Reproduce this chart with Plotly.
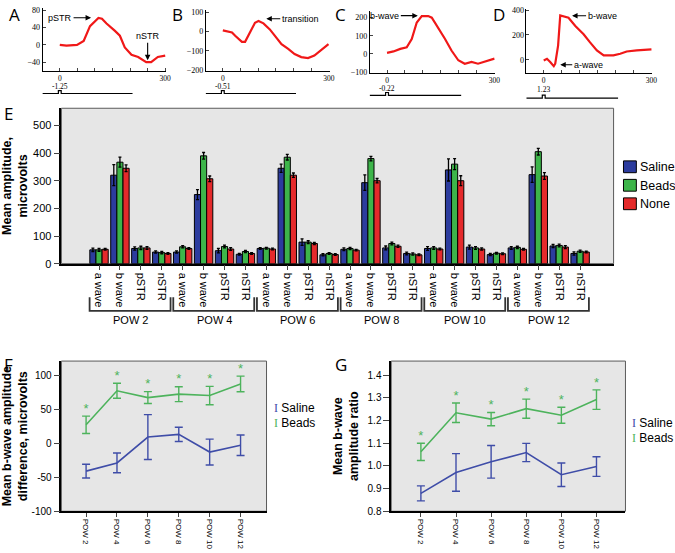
import plotly.graph_objects as go

W, H = 675, 553

# ---- data ----
# example traces A-D (time in ms, amplitude in microvolts)
a_t = [0, 19, 49, 68, 86, 110, 120, 133, 157, 171, 185, 204, 223, 246, 260, 279, 300]
a_v = [0, -2, 0, 9, 43, 62, 60, 49, 32, 21, -6, -23, -28, -40, -40, -28, -25]
b_t = [0, 26, 35, 54, 63, 77, 91, 101, 115, 133, 147, 166, 185, 203, 222, 241, 259, 278, 299]
b_v = [6, -5, -22, -53, -53, -5, 45, 54, 42, 11, -22, -65, -90, -116, -132, -137, -124, -98, -65]
c_t = [0, 18, 37, 55, 69, 83, 97, 115, 125, 143, 162, 180, 199, 217, 236, 254, 273, 300]
c_v = [5, 13, 27, 36, 82, 173, 209, 209, 200, 145, 82, 18, -36, -55, -45, -55, -45, -27]
d_t = [0, 9, 18, 28, 32, 40, 46, 56, 69, 88, 111, 129, 148, 167, 194, 213, 231, 259, 300]
d_v = [-5, 8, -18, -52, -32, 114, 357, 347, 339, 273, 206, 140, 75, 35, 35, 48, 67, 75, 83]
stim_labels = ["-1.25", "-0.51", "-0.22", "1.23"]
stim_t = [-50, -4, -4, 4, 4, 207]
stim_v = [0, 0, 1, 1, 0, 0]

# panel E
measures = ["a wave", "b wave", "pSTR", "nSTR"]
pows = ["POW 2", "POW 4", "POW 6", "POW 8", "POW 10", "POW 12"]
groups = ["Saline", "Beads", "None"]
saline_amp = [50, 320, 55, 42, 42, 250, 47, 34, 55, 345, 78, 32, 52, 293, 57, 37, 55, 339, 60, 33, 57, 322, 64, 37]
beads_amp = [50, 367, 57, 40, 61, 390, 62, 44, 56, 385, 78, 37, 55, 380, 73, 35, 57, 360, 57, 38, 59, 405, 66, 45]
none_amp = [52, 345, 57, 37, 55, 307, 53, 37, 53, 320, 73, 33, 49, 300, 63, 32, 53, 300, 53, 36, 52, 317, 60, 42]
saline_err = [6, 38, 6, 4, 4, 18, 8, 3, 3, 15, 12, 4, 5, 28, 7, 5, 7, 40, 7, 4, 5, 28, 6, 6]
beads_err = [5, 18, 6, 4, 4, 12, 5, 4, 3, 10, 5, 3, 4, 8, 5, 4, 5, 20, 5, 3, 4, 12, 5, 4]
none_err = [3, 12, 5, 3, 3, 10, 5, 3, 3, 8, 4, 3, 3, 8, 4, 3, 3, 18, 4, 3, 3, 12, 5, 3]

# panel F: b-wave amplitude difference
f_saline = [-41, -29, 9, 13, -13, -3]
f_saline_err = [10, 14.5, 33, 10.5, 19, 15]
f_beads = [27, 77, 67, 72, 70, 87]
f_beads_err = [12.7, 11, 8.7, 11, 13.5, 11.5]

# panel G: b-wave amplitude ratio
g_saline = [0.879, 0.971, 1.018, 1.059, 0.961, 0.997]
g_saline_err = [0.033, 0.083, 0.072, 0.04, 0.052, 0.043]
g_beads = [1.062, 1.234, 1.206, 1.252, 1.223, 1.292]
g_beads_err = [0.038, 0.043, 0.029, 0.042, 0.035, 0.043]

BLUE, GREEN, RED = "#2C3C9E", "#3DB54A", "#E42A2B"
LBLUE, LGREEN = "#3F4DA8", "#4DB35C"
FONT = "Liberation Sans"


def xd(a, b):
    return [a / W, b / W]


def yd(top, bot):
    return [1 - bot / H, 1 - top / H]


def py(p):
    return 1 - p / H


fig = go.Figure()
layout = dict(width=W, height=H, margin=dict(l=0, r=0, t=0, b=0),
              plot_bgcolor="white", paper_bgcolor="white",
              font=dict(family=FONT, size=11, color="black"),
              barmode="group", bargap=0.12, bargroupgap=0,
              showlegend=False)

# ---- panels A-D ----
small = [
    # axis suffix, x px, y px, x range, y range, y ticks, stim strip px, data
    ("", [42, 167], [5, 69], [-49, 303], [-60, 85], [80, 40, 0, -40], [86, 95], a_t, a_v),
    ("2", [207, 332], [6.7, 69], [-48, 302], [-203, 113], [100, 0, -100, -200], [86, 95], b_t, b_v),
    ("3", [372.7, 499], [8.3, 70.7], [-48, 301], [-104, 236], [200, 100, 0, -100], [88, 97], c_t, c_v),
    ("4", [531, 658], [6, 70.7], [-48, 302], [-103, 410], [400, 200, 0], [90.7, 99.7], d_t, d_v),
]
stim_axes = ["8", "9", "10", "11"]
for i, (n, xp, ypx, xr, yr, yt, sp, t, v) in enumerate(small):
    sn = stim_axes[i]
    layout["xaxis" + n] = dict(domain=xd(*xp), range=xr, anchor="y" + n, showgrid=False, zeroline=False,
                               showline=True, linecolor="black", linewidth=1, ticks="inside", ticklen=3,
                               tickvals=[0, 50, 100, 150, 200, 250, 300],
                               ticktext=["0", "", "", "", "", "", "300"],
                               tickfont=dict(size=7.5, family="Liberation Sans Narrow"))
    layout["yaxis" + n] = dict(domain=yd(*ypx), range=yr, anchor="x" + n, showgrid=False, zeroline=False,
                               showline=True, linecolor="black", linewidth=1, ticks="inside", ticklen=3,
                               tickvals=yt, tickfont=dict(size=8, family="Liberation Sans Narrow"))
    layout["yaxis" + sn] = dict(domain=yd(*sp), range=[-1, 2], anchor="x" + n, visible=False)
    fig.add_trace(go.Scatter(x=t, y=v, mode="lines", line=dict(color="#F01818", width=2.2),
                             xaxis="x" + n, yaxis="y" + n))
    fig.add_trace(go.Scatter(x=stim_t, y=stim_v, mode="lines", line=dict(color="black", width=1.2),
                             xaxis="x" + n, yaxis="y" + sn))

# ---- panel E ----
cat_x = list(range(len(pows) * len(measures)))
cat_text = measures * len(pows)
for name, vals, errs, col in zip(groups, [saline_amp, beads_amp, none_amp],
                                 [saline_err, beads_err, none_err], [BLUE, GREEN, RED]):
    fig.add_trace(go.Bar(x=cat_x, y=vals, name=name, marker=dict(color=col, line=dict(color="black", width=1)),
                         error_y=dict(type="data", array=errs, color="black", thickness=1.3, width=1.5),
                         xaxis="x5", yaxis="y5"))
layout["xaxis5"] = dict(domain=xd(61, 619), range=[-1.8, 24.6], anchor="y5", showgrid=False, zeroline=False,
                        showline=True, linecolor="black", linewidth=1.5, ticks="outside", ticklen=5,
                        tickvals=cat_x, ticktext=cat_text, tickangle=90, tickfont=dict(size=11))
layout["yaxis5"] = dict(domain=yd(107, 265), range=[0, 562], anchor="x5", showgrid=False, zeroline=False,
                        showline=True, linecolor="black", linewidth=1.5, ticks="outside", ticklen=6,
                        tickvals=[0, 100, 200, 300, 400, 500], tickfont=dict(size=11),
                        title=dict(text="<b>Mean amplitude,<br>microvolts</b>", font=dict(size=12.5), standoff=8))

# ---- panels F, G ----
cats6 = list(range(len(pows)))
for ax, sal, sal_e, bd, bd_e in [("6", f_saline, f_saline_err, f_beads, f_beads_err),
                                  ("7", g_saline, g_saline_err, g_beads, g_beads_err)]:
    fig.add_trace(go.Scatter(x=cats6, y=sal, mode="lines", line=dict(color=LBLUE, width=1.6),
                             error_y=dict(type="data", array=sal_e, color=LBLUE, thickness=1.4, width=4),
                             xaxis="x" + ax, yaxis="y" + ax))
    fig.add_trace(go.Scatter(x=cats6, y=bd, mode="lines", line=dict(color=LGREEN, width=1.6),
                             error_y=dict(type="data", array=bd_e, color=LGREEN, thickness=1.4, width=4),
                             xaxis="x" + ax, yaxis="y" + ax))
    fig.add_trace(go.Scatter(x=cats6, y=[b + e for b, e in zip(bd, bd_e)], mode="text", text=["*"] * 6,
                             textposition="top center", textfont=dict(color=LGREEN, size=13),
                             cliponaxis=False, xaxis="x" + ax, yaxis="y" + ax))

common_x = dict(showgrid=False, zeroline=False, showline=True, linecolor="black", linewidth=1.5,
                ticks="outside", ticklen=4, tickvals=cats6, ticktext=pows, tickangle=90,
                tickfont=dict(size=8))
layout["xaxis6"] = dict(common_x, domain=xd(61, 268.3), range=[-0.8, 5.84], anchor="y6")
layout["xaxis7"] = dict(common_x, domain=xd(394.3, 631), range=[-0.845, 5.825], anchor="y7")
layout["yaxis6"] = dict(domain=yd(364, 516.7), range=[-100, 120.6], anchor="x6", showgrid=False, zeroline=False,
                        showline=True, linecolor="black", linewidth=1.5, ticks="outside", ticklen=6,
                        tickvals=[100, 50, 0, -50, -100], ticktext=["100", "50", "0", "-50", "-100"],
                        tickfont=dict(size=10),
                        title=dict(text="<b>Mean b-wave amplitude<br>difference, microvolts</b>",
                                   font=dict(size=12.5), standoff=6))
layout["yaxis7"] = dict(domain=yd(364, 516.7), range=[0.8, 1.4617], anchor="x7", showgrid=False, zeroline=False,
                        showline=True, linecolor="black", linewidth=1.5, ticks="outside", ticklen=6,
                        tickvals=[0.8, 0.9, 1.0, 1.1, 1.2, 1.3, 1.4], tickformat=".1f",
                        tickfont=dict(size=10),
                        title=dict(text="<b>Mean b-wave<br>amplitude ratio</b>", font=dict(size=12.5), standoff=6))

# ---- shapes: gray backgrounds, brackets, legend boxes ----
shapes = []
for ax in ["5", "6", "7"]:
    shapes.append(dict(type="rect", xref="x%s domain" % ax, yref="y%s domain" % ax, x0=0, x1=1, y0=0, y1=1,
                       fillcolor="#E6E6E6", line=dict(color="#5A5A5A", width=1), layer="below"))
for g in range(len(pows)):
    x0, x1 = 4 * g - 0.45, 4 * g + 3.42
    shapes.append(dict(type="path", xref="x5", yref="paper",
                       path="M %f,%f L %f,%f L %f,%f L %f,%f" % (x0, py(299), x0, py(313), x1, py(313), x1, py(299)),
                       line=dict(color="#333333", width=1.8)))
ann = []
for k, (name, col) in enumerate(zip(groups, [BLUE, GREEN, RED])):
    top = 160.5 + k * 18.8
    shapes.append(dict(type="rect", xref="paper", yref="paper", x0=629 / W, x1=642 / W,
                       y0=py(top + 12), y1=py(top), fillcolor=col, line=dict(color="black", width=1)))
    ann.append(dict(text=name, x=644 / W, y=py(top + 6.5), xref="paper", yref="paper", xanchor="left",
                    yanchor="middle", showarrow=False, font=dict(size=12.5)))
layout["shapes"] = shapes

# ---- annotations ----
for txt, x, y in [("A", 14, 12), ("B", 178, 12), ("C", 343, 12), ("D", 503, 12),
                  ("E", 8, 112), ("F", 8, 367), ("G", 344, 367)]:
    ann.append(dict(text=txt, x=x / W, y=py(y), xref="paper", yref="paper", showarrow=False,
                    xanchor="center", yanchor="middle", font=dict(size=17, family="Open Sans")))
for g, p in enumerate(pows):
    ann.append(dict(text=p, x=4 * g + 1.5, y=py(322), xref="x5", yref="paper", showarrow=False,
                    yanchor="middle", font=dict(size=11)))
for i, (n, stim_y) in enumerate(zip(["", "2", "3", "4"], [84.5, 84.5, 86.5, 88])):
    ann.append(dict(text=stim_labels[i], x=0, y=py(stim_y), xref="x" + n, yref="paper", showarrow=False,
                    yanchor="middle", font=dict(size=7.5, family="Liberation Sans Narrow")))
arrow = dict(showarrow=True, arrowhead=2, arrowsize=1, arrowwidth=1.1, arrowcolor="black",
             font=dict(size=9, family="Liberation Sans"))
for txt, n, x, y, axp, ayp in [("pSTR", "", 89, 62.5, -31, 0), ("nSTR", "", 250, -35.5, 0, -24),
                               ("transition", "2", 123, 66, 34, 0), ("b-wave", "3", 86, 211, -33, 0),
                               ("b-wave", "4", 79, 355, 30, 0), ("a-wave", "4", 46, -40, 28, 0)]:
    ann.append(dict(arrow, text=txt, x=x, y=y, xref="x" + n, yref="y" + n, ax=axp, ay=ayp))
for x, ys in [(274, (412, 427)), (636, (427, 442))]:
    for label, col, yy in [("Saline", LBLUE, ys[0]), ("Beads", LGREEN, ys[1])]:
        ann.append(dict(text="<span style='color:%s;font-family:Liberation Serif'>I</span> %s" % (col, label),
                        x=x / W, y=py(yy), xref="paper", yref="paper", xanchor="left", yanchor="middle",
                        showarrow=False, font=dict(size=12)))
layout["annotations"] = ann

fig.update_layout(**layout)
fig.write_html("out.html", config={"displayModeBar": False},
               post_script="document.body.style.margin='0';")
